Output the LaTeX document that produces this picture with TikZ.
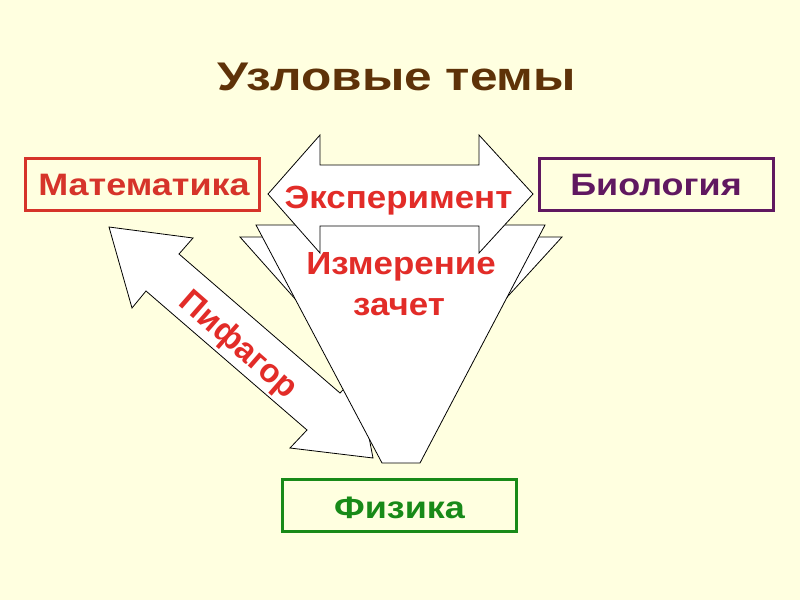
\documentclass[tikz,border=0pt]{standalone}
\usepackage{fontspec}
\setmainfont{Liberation Sans}
\newfontfamily\titlefont{Liberation Sans}[FakeStretch=1.24]
\newfontfamily\boxfont{Liberation Sans}[FakeStretch=1.16]
\newfontfamily\lblfont{Liberation Sans}[FakeStretch=1.09]
\definecolor{bgc}{RGB}{255,255,224}
\definecolor{titlec}{RGB}{94,50,8}
\definecolor{redc}{RGB}{226,44,40}
\definecolor{mathc}{RGB}{214,52,42}
\definecolor{bioc}{RGB}{96,24,96}
\definecolor{physc}{RGB}{24,138,24}
\tikzset{
  shp/.style={draw=black,fill=white,line width=0.8pt,line join=miter},
  subj/.style={draw=#1,line width=3pt,minimum width=234pt,minimum height=52pt,inner sep=0pt},
  boxtxt/.style={anchor=base,text=#1,inner sep=0pt,font=\boxfont\fontsize{31}{36}\selectfont\bfseries},
  lbl/.style={text=redc,inner sep=0pt,font=\lblfont\fontsize{32}{38}\selectfont\bfseries},
}
\begin{document}
\begin{tikzpicture}[x=1pt,y=-1pt]
\useasboundingbox (0,0) rectangle (800,600);
\fill[bgc] (0,0) rectangle (800,600);
% title
\node[anchor=base,text=titlec,inner sep=0pt,font=\titlefont\fontsize{40}{46}\selectfont\bfseries] (title) at (397,90.7) {Узловые темы};
% back funnel
\draw[shp] (240,237) -- (562,237) -- (404,410) -- (394,410) -- cycle;
% Pythagoras double arrow
\draw[shp] (109,227) -- (193,238) -- (179,254) -- (340,393) -- (357,375) -- (373,458) -- (290,448) -- (307,430) -- (146,291) -- (132,308) -- cycle;
% front funnel
\draw[shp] (256,225) -- (545,225) -- (420,463) -- (382,463) -- cycle;
% horizontal double arrow
\draw[shp] (268,194) -- (320,135) -- (320,165) -- (479,165) -- (479,135) -- (533,194) -- (479,253) -- (479,226) -- (320,226) -- (320,253) -- cycle;
% subject boxes
\node[subj=mathc] (math) at (142.5,184) {};
\node[boxtxt=mathc] (mathlbl) at (144,195) {Математика};
\node[subj=bioc] (bio) at (656.7,184.2) {};
\node[boxtxt=bioc] (biolbl) at (656,195) {Биология};
\node[subj=physc] (phys) at (399.7,505) {};
\node[boxtxt=physc] (physlbl) at (399.5,518.3) {Физика};
% labels on shapes
\node[lbl,anchor=base] (exp) at (398.5,208) {Эксперимент};
\node[lbl,anchor=base] (meas) at (401,274) {Измерение};
\node[lbl,anchor=base] (test) at (399,315) {зачет};
\node[text=redc,inner sep=0pt,font=\fontsize{33}{38}\selectfont\bfseries,rotate=-41.2] (pyth) at (238,346) {Пифагор};
\end{tikzpicture}
\end{document}
